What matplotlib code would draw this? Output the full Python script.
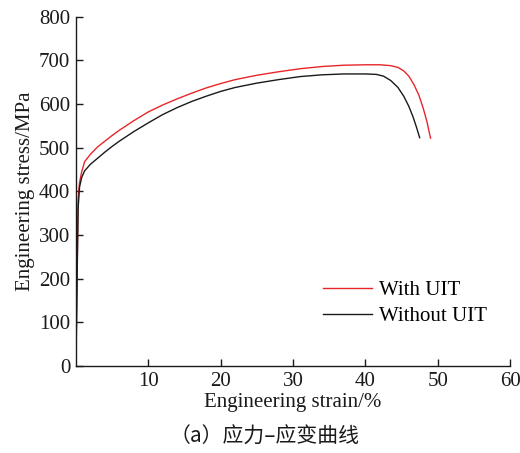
import matplotlib
matplotlib.use('Agg')
import matplotlib.pyplot as plt

plt.rcParams['font.family'] = 'serif'
plt.rcParams['font.serif'] = ['Liberation Serif']

# 应力-应变曲线数据 (工程应变 %, 工程应力 MPa)
strain_uit = [0, 0.15, 0.3, 0.5, 0.8, 1.2, 2, 3, 4, 5, 6, 8, 10, 12, 14, 16, 18, 20, 22,
              25, 28, 31, 34, 37, 40, 42, 43.5, 44.5, 45.3, 46, 46.7, 47.4, 48, 48.5, 49]
stress_uit = [0, 200, 380, 420, 445, 468, 485, 502, 515, 528, 540, 562, 582, 598, 612, 625, 637, 647, 656,
              666, 674, 681, 686, 689, 690, 690, 688, 684, 676, 664, 645, 620, 590, 560, 522]

strain_base = [0, 0.15, 0.3, 0.5, 0.8, 1.2, 2, 3, 4, 5, 6, 8, 10, 12, 14, 16, 18, 20, 22,
               25, 28, 31, 34, 37, 40, 41.5, 42.5, 43.5, 44.5, 45.3, 46, 46.6, 47.1, 47.5]
stress_base = [0, 180, 360, 410, 432, 447, 462, 476, 490, 503, 515, 537, 557, 576, 592, 606, 618, 629, 638,
               648, 656, 663, 667, 669, 669, 668, 664, 654, 638, 618, 595, 570, 545, 523]

x_ticks = [10, 20, 30, 40, 50, 60]
y_ticks = [0, 100, 200, 300, 400, 500, 600, 700, 800]

fig = plt.figure(figsize=(5.2, 4.53), dpi=100)
ax = fig.add_axes([0.146, 0.192, 0.835, 0.771])

ax.plot(strain_uit, stress_uit, color='#e8262a', lw=1.0, label='With UIT')
ax.plot(strain_base, stress_base, color='#1a1a1a', lw=1.0, label='Without UIT')

ax.set_xlim(0, 60)
ax.set_ylim(0, 800)
ax.set_xticks(x_ticks)
ax.set_yticks(y_ticks)
ax.tick_params(direction='in', length=5, width=1.0, labelsize=15, colors='#1a1a1a', pad=4)
for side in ['top', 'right']:
    ax.spines[side].set_visible(False)
for side in ['left', 'bottom']:
    ax.spines[side].set_linewidth(1.0)
    ax.spines[side].set_color('#1a1a1a')

ax.set_xlabel('Engineering strain/%', fontsize=15, labelpad=2, color='#1a1a1a')
ax.set_ylabel('Engineering stress/MPa', fontsize=15, labelpad=3, color='#1a1a1a')

ax.legend(loc='lower left', bbox_to_anchor=(0.525, 0.06), frameon=False, fontsize=15,
          handlelength=2.35, handletextpad=0.35, labelspacing=0.3)

fig.text(0.508, 0.035, '（a）应力–应变曲线', ha='center', va='center', fontsize=15,
         color='#1a1a1a', family=['Noto Sans CJK SC', 'Liberation Serif'])

fig.savefig('out.png', dpi=100)
